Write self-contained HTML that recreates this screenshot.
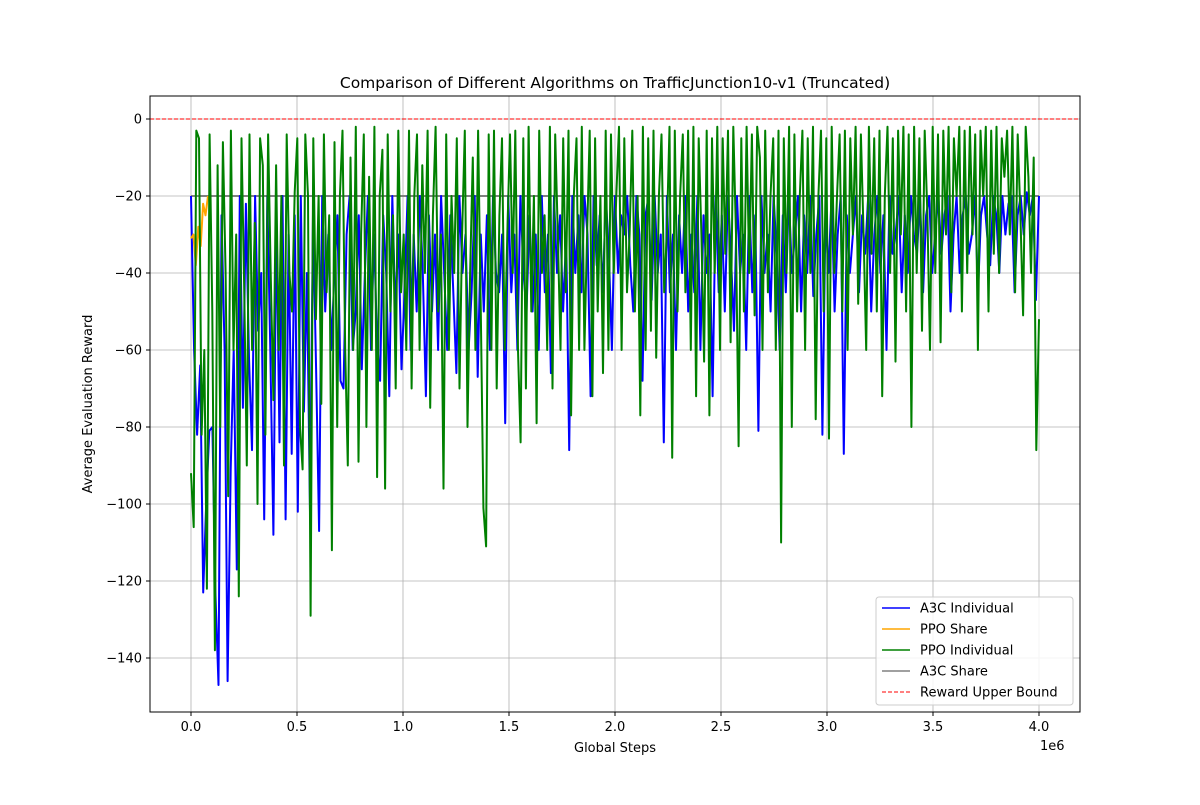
<!DOCTYPE html>
<html><head><meta charset="utf-8"><style>
body{margin:0;background:#fff;font-family:"Liberation Sans","DejaVu Sans",sans-serif}
svg text{font-family:"DejaVu Sans","Liberation Sans",sans-serif}
</style></head><body>
<svg id="c" width="1200" height="800" xmlns="http://www.w3.org/2000/svg"></svg>
<script>
const tickX=[0,0.5,1,1.5,2,2.5,3,3.5,4];
const tickXLabels=["0.0","0.5","1.0","1.5","2.0","2.5","3.0","3.5","4.0"];
const tickY=[0,-20,-40,-60,-80,-100,-120,-140];
const ppoIndividual=[
-92,-106,-3,-5,-82,-60,-122,-4,-50,-138,-12,-80,-6,-40,-98,-3,-60,-30,-124,-5,
-44,-90,-4,-60,-27,-100,-5,-12,-82,-4,-40,-73,-12,-60,-20,-90,-4,-40,-50,-19,
-5,-80,-91,-4,-20,-129,-5,-52,-20,-74,-4,-45,-25,-112,-6,-80,-20,-3,-60,-90,
-10,-60,-2,-89,-30,-4,-80,-15,-60,-2,-93,-20,-8,-96,-4,-50,-25,-70,-3,-45,
-30,-60,-3,-70,-20,-4,-60,-12,-40,-3,-75,-25,-2,-50,-30,-96,-4,-60,-20,-40,
-5,-70,-30,-3,-80,-40,-10,-60,-3,-50,-101,-111,-4,-60,-3,-70,-25,-5,-60,-30,
-4,-40,-3,-60,-84,-5,-70,-2,-50,-20,-79,-3,-40,-25,-60,-2,-70,-4,-30,-60,
-5,-45,-3,-77,-20,-5,-60,-2,-60,-30,-3,-72,-5,-50,-20,-66,-3,-60,-4,-40,
-20,-2,-60,-5,-45,-30,-3,-50,-20,-77,-2,-60,-5,-55,-3,-62,-20,-4,-45,-30,
-2,-88,-3,-50,-20,-4,-45,-3,-60,-2,-72,-5,-30,-63,-3,-77,-5,-40,-2,-60,
-5,-35,-3,-58,-2,-30,-85,-5,-50,-2,-40,-4,-51,-2,-10,-60,-3,-45,-20,-5,
-60,-3,-110,-5,-40,-2,-80,-4,-50,-20,-3,-60,-5,-40,-2,-78,-20,-3,-50,-5,
-83,-2,-40,-20,-4,-50,-3,-60,-5,-30,-2,-48,-4,-30,-60,-2,-35,-5,-50,-3,
-72,-20,-2,-40,-5,-63,-3,-30,-2,-50,-4,-80,-2,-40,-5,-55,-3,-25,-60,-2,
-40,-4,-58,-3,-30,-2,-45,-5,-20,-2,-50,-3,-40,-2,-30,-4,-60,-3,-20,-2,
-50,-3,-35,-2,-40,-5,-15,-3,-30,-2,-45,-4,-25,-51,-2,-15,-40,-10,-86,-52];
const a3cIndividual=[
-20,-60,-82,-64,-123,-99,-81,-80,-123,-147,-25,-60,-146,-91,-60,-117,-20,-75,-22,-62,
-86,-20,-55,-40,-104,-20,-60,-108,-25,-84,-20,-104,-30,-87,-25,-102,-20,-76,-40,-102,
-25,-65,-107,-20,-50,-30,-60,-40,-25,-68,-70,-30,-20,-60,-50,-25,-65,-40,-20,-60,
-30,-58,-68,-25,-40,-72,-20,-50,-30,-65,-45,-20,-60,-30,-50,-20,-40,-72,-25,-50,
-30,-60,-20,-40,-60,-25,-45,-66,-20,-40,-30,-60,-45,-20,-67,-30,-50,-25,-60,-20,
-40,-45,-30,-79,-20,-45,-30,-60,-20,-40,-50,-25,-50,-30,-60,-20,-45,-30,-66,-20,
-40,-25,-50,-30,-86,-20,-40,-25,-45,-20,-30,-72,-20,-38,-25,-45,-20,-35,-60,-20,
-40,-25,-30,-20,-38,-50,-20,-30,-68,-25,-20,-47,-20,-40,-30,-84,-20,-45,-30,-60,
-25,-40,-20,-50,-30,-45,-20,-60,-25,-40,-30,-72,-20,-45,-25,-50,-20,-35,-55,-20,
-40,-30,-60,-20,-45,-25,-81,-20,-40,-30,-50,-20,-35,-60,-25,-45,-20,-40,-30,-20,
-50,-25,-40,-20,-46,-30,-20,-82,-25,-40,-20,-50,-30,-20,-87,-25,-40,-30,-20,-45,
-25,-35,-20,-50,-30,-20,-40,-25,-60,-20,-35,-30,-20,-45,-25,-40,-20,-30,-35,-20,
-45,-25,-20,-40,-30,-20,-35,-25,-20,-50,-30,-20,-40,-25,-20,-35,-30,-20,-45,-25,
-20,-30,-38,-20,-25,-40,-20,-30,-22,-20,-45,-25,-20,-30,-19,-25,-20,-47,-20];
const ppoShare=[-31,-30,-38,-28,-33,-22,-25,-20];
const ppoShareEnd=0.08;
const a3cShare=[-20,-20];
const xEnd=4.0;

const svg=document.getElementById('c');const NS="http://www.w3.org/2000/svg";
const L=150,R=1080,T=96,B=712;
const sx=v=>191+(v)*212;
const sy=v=>119-v*3.85;
function el(t,a,p){const e=document.createElementNS(NS,t);for(const k in a)e.setAttribute(k,a[k]);(p||svg).appendChild(e);return e;}
const grid=el('g',{});


tickX.forEach(v=>el('line',{x1:sx(v),x2:sx(v),y1:T,y2:B,stroke:'#b0b0b0','stroke-width':0.8},grid));
tickY.forEach(v=>el('line',{x1:L,x2:R,y1:sy(v),y2:sy(v),stroke:'#b0b0b0','stroke-width':0.8},grid));
function series(vals,x0,x1,color,name,w){
  const n=vals.length;const pts=vals.map((v,i)=>sx(x0+(x1-x0)*i/(n-1)).toFixed(1)+','+sy(v).toFixed(1)).join(' ');
  const p=el('polyline',{points:pts,fill:'none',stroke:color,'stroke-width':w||2,'stroke-linejoin':'round'});
  
  
}
series(a3cShare,0,xEnd,'#808080','a3c-share-line');
series(a3cIndividual,0,xEnd,'#0000ff','a3c-individual-line');
series(ppoShare,0,ppoShareEnd,'#ffa500','ppo-share-line');
series(ppoIndividual,0,xEnd,'#008000','ppo-individual-line');
const ub=el('line',{x1:L,x2:R,y1:sy(0),y2:sy(0),stroke:'#ff0000','stroke-width':1,'stroke-dasharray':'4,2'});


el('rect',{x:L,y:T,width:R-L,height:B-T,fill:'none',stroke:'#000','stroke-width':1});
tickX.forEach((v,i)=>{el('line',{x1:sx(v),x2:sx(v),y1:B,y2:B+4,stroke:'#000'});
 const t=el('text',{x:sx(v),y:B+19,'text-anchor':'middle','font-size':13});t.textContent=tickXLabels[i];
 });
tickY.forEach(v=>{el('line',{x1:L-4,x2:L,y1:sy(v),y2:sy(v),stroke:'#000'});
 const t=el('text',{x:L-8,y:sy(v)+4.5,'text-anchor':'end','font-size':13});t.textContent=String(v).replace('-','\u2212');
 });
function txt(s,a,name){const t=el('text',a);t.textContent=s;return t;}
txt('1e6',{x:1040,y:750,'font-size':13},'x-axis-offset');
txt('Global Steps',{x:615,y:752,'text-anchor':'middle','font-size':13},'x-axis-title');
txt('Average Evaluation Reward',{x:92,y:404,'text-anchor':'middle','font-size':13,transform:'rotate(-90 92 404)'},'y-axis-title');
txt('Comparison of Different Algorithms on TrafficJunction10-v1 (Truncated)',{x:615,y:88,'text-anchor':'middle','font-size':15.5},'chart-title');
const lg=el('g',{});
el('rect',{x:876,y:597,width:197,height:108,rx:3,fill:'#fff','fill-opacity':0.85,stroke:'#ccc'},lg);
const items=[['A3C Individual','#0000ff',0],['PPO Share','#ffa500',0],['PPO Individual','#008000',0],['A3C Share','#808080',0],['Reward Upper Bound','#ff0000',1]];
items.forEach((it,i)=>{const y=608+i*21;
 el('line',{x1:882,x2:910,y1:y,y2:y,stroke:it[1],'stroke-width':it[2]?1:1.5,'stroke-dasharray':it[2]?'4,2':'none'},lg);
 const t=el('text',{x:920,y:y+4.5,'font-size':13},lg);t.textContent=it[0];
 });
</script>
</body></html>
